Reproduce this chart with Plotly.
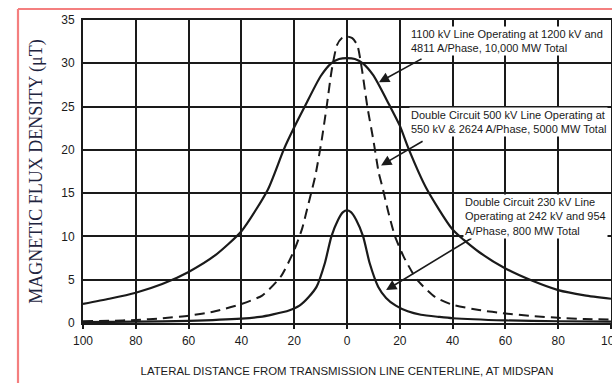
import plotly.graph_objects as go

# Lateral distance from centerline (ft); negative = left side (labelled by magnitude)
x_1100 = [-100, -90, -80, -70, -60, -50, -40, -30, -24, -20, -16, -10, -6, -3, 0,
          3, 6, 10, 16, 20, 23.5, 30, 40, 50, 60, 70, 80, 90, 100]
b_1100 = [2.2, 2.8, 3.5, 4.5, 5.9, 7.8, 10.6, 15.4, 20.0, 22.6, 25.0, 28.5, 30.0, 30.5, 30.6,
          30.5, 30.0, 28.6, 25.2, 22.8, 20.0, 15.6, 10.8, 8.2, 6.3, 4.9, 3.8, 3.2, 2.8]

x_500 = [-100, -90, -80, -70, -60, -50, -40, -32, -25, -20, -17, -14.5, -12, -9.6, -7.7, -5.8, -3.8, -2, 0,
         2, 3.9, 5.7, 7.7, 10, 12, 13.5, 15.5, 18.2, 21.4, 26.5, 33.4, 40, 50, 60, 70, 80, 90, 100]
b_500 = [0.2, 0.25, 0.35, 0.55, 0.85, 1.35, 2.2, 3.2, 5.4, 8.4, 10.9, 13.9, 17.0, 21.1, 25.0, 29.2, 32.1, 32.9, 33.1,
         32.9, 32.1, 29.2, 25.0, 21.1, 17.4, 15.6, 13.0, 10.0, 7.7, 5.0, 3.0, 2.1, 1.5, 1.1, 0.8, 0.6, 0.45, 0.4]

x_230 = [-100, -80, -60, -40, -33, -28, -22, -18, -14.5, -11.5, -8.4, -5.9, -3.4, -1.5, 0,
         1.5, 3.5, 6.1, 8.6, 11.8, 14.8, 18.5, 23, 28, 35, 40, 60, 80, 100]
b_230 = [0.1, 0.15, 0.25, 0.5, 0.7, 1.0, 1.45, 2.0, 3.0, 4.2, 6.9, 10.0, 11.9, 12.8, 13.0,
         12.8, 11.9, 10.0, 6.9, 4.2, 2.9, 2.0, 1.35, 0.95, 0.7, 0.55, 0.3, 0.2, 0.15]

x_tickvals = [-100, -80, -60, -40, -20, 0, 20, 40, 60, 80, 100]
x_ticktext = ["100", "80", "60", "40", "20", "0", "20", "40", "60", "80", "100"]
y_tickvals = [0, 5, 10, 15, 20, 25, 30, 35]

label_1100 = "1100 kV Line Operating at 1200 kV and<br>4811 A/Phase, 10,000 MW Total"
label_500 = "Double Circuit 500 kV Line Operating at<br>550 kV &amp; 2624 A/Phase, 5000 MW Total"
label_230 = "Double Circuit 230 kV Line<br>Operating at 242 kV and 954<br>A/Phase, 800 MW Total"

INK = "#1a1a1a"

fig = go.Figure()
fig.add_trace(go.Scatter(x=x_1100, y=b_1100, mode="lines", name="1100 kV",
                         line=dict(color=INK, width=2.2, shape="spline", smoothing=0.6)))
fig.add_trace(go.Scatter(x=x_500, y=b_500, mode="lines", name="500 kV",
                         line=dict(color=INK, width=2.0, dash="10px,6px", shape="spline", smoothing=0.6)))
fig.add_trace(go.Scatter(x=x_230, y=b_230, mode="lines", name="230 kV",
                         line=dict(color=INK, width=2.2, shape="spline", smoothing=0.6)))

# arrows (tail -> tip) in data coordinates
arrows = [
    (28.8, 30.6, 12.1, 27.8),
    (29.2, 21.1, 12.9, 18.2),
    (47.7, 9.9, 14.8, 3.8),
]
for ax_, ay_, x_, y_ in arrows:
    fig.add_annotation(x=x_, y=y_, ax=ax_, ay=ay_, xref="x", yref="y", axref="x", ayref="y",
                       text="", showarrow=True, arrowhead=2, arrowsize=1.3, arrowwidth=1.6,
                       arrowcolor=INK)

labels = [
    (label_1100, 23.5, 34.3),
    (label_500, 23.5, 25.0),
    (label_230, 43.9, 14.9),
]
for txt, lx, ly in labels:
    fig.add_annotation(x=lx, y=ly, xref="x", yref="y", text=txt, showarrow=False,
                       xanchor="left", yanchor="top", align="left",
                       bgcolor="white", borderpad=1,
                       font=dict(family="Liberation Sans, Arial, sans-serif", size=11, color=INK))

# pink frame around the figure
fig.add_shape(type="line", xref="paper", yref="paper", x0=-0.1231, x1=-0.1231, y0=-0.4, y1=1.0363,
              line=dict(color="#f47f7f", width=2.2))
fig.add_shape(type="line", xref="paper", yref="paper", x0=-0.1231, x1=1.2, y0=1.0363, y1=1.0363,
              line=dict(color="#f47f7f", width=2.2))

fig.update_layout(
    width=612, height=383,
    margin=dict(l=83, r=1, t=20, b=60, autoexpand=False),
    paper_bgcolor="white", plot_bgcolor="white",
    showlegend=False,
    xaxis=dict(range=[-100, 100], tickvals=x_tickvals, ticktext=x_ticktext, automargin=False,
               showgrid=True, gridcolor=INK, gridwidth=1.7, zeroline=False,
               showline=True, linecolor=INK, linewidth=2, mirror=True,
               ticks="outside", ticklen=4, tickcolor=INK, tickwidth=1.7,
               ticklabelstandoff=2, ticklabeloverflow="allow",
               tickfont=dict(family="Liberation Sans, Arial, sans-serif", size=12, color=INK),
               title=dict(text="LATERAL DISTANCE FROM TRANSMISSION LINE CENTERLINE, AT MIDSPAN",
                          font=dict(family="Liberation Sans, Arial, sans-serif", size=11.4, color=INK),
                          standoff=20)),
    yaxis=dict(range=[0, 35], tickvals=y_tickvals, automargin=False,
               showgrid=True, gridcolor=INK, gridwidth=1.7, zeroline=False,
               showline=True, linecolor=INK, linewidth=2, mirror=True,
               ticks="", ticklabelstandoff=4,
               tickfont=dict(family="Liberation Sans, Arial, sans-serif", size=12, color=INK),
               title=dict(text="MAGNETIC FLUX DENSITY (μT)",
                          font=dict(family="Liberation Serif, Times New Roman, serif", size=18, color="#1f2540"),
                          standoff=14)),
)

fig.write_html("out.html", config={"responsive": False, "displayModeBar": False},
               post_script="document.body.style.margin='0';document.body.style.overflow='hidden';")
